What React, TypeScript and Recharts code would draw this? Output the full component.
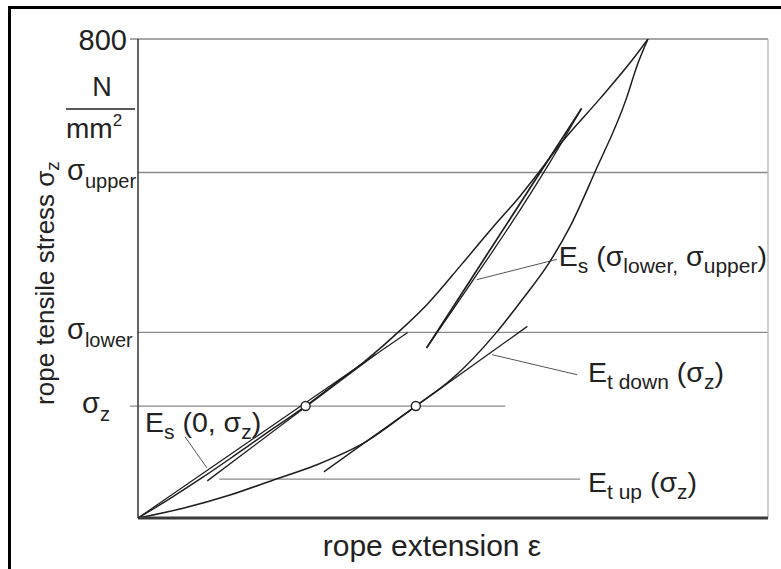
import React from 'react';
import { LineChart, Line, XAxis, YAxis, ReferenceLine, ReferenceDot } from 'recharts';

// stress levels (N/mm²) and axis ticks
const yMax = 800;
const sigmaUpper = 577;
const sigmaLower = 310;
const sigmaZ = 187;
const yTicks = [sigmaZ, sigmaLower, sigmaUpper, yMax];

// extension (arbitrary units 0..100)
const xMax = 100;

// loading / unloading curves
const curveLeft = [
  { x: 0, y: 0 }, { x: 5, y: 32 }, { x: 10, y: 66 }, { x: 15, y: 102 }, { x: 20, y: 139 },
  { x: 26.6, y: 187 }, { x: 31, y: 222 }, { x: 35.9, y: 261 }, { x: 41.8, y: 315 },
  { x: 46, y: 358 }, { x: 51.4, y: 424 }, { x: 56.7, y: 490 }, { x: 60.6, y: 537 },
  { x: 63.6, y: 577 }, { x: 67.3, y: 628 }, { x: 73.3, y: 700 }, { x: 78.6, y: 767 },
  { x: 80.95, y: 800 },
];
const curveRight = [
  { x: 0, y: 0 }, { x: 7, y: 16 }, { x: 14.6, y: 38.5 }, { x: 21.5, y: 63.6 }, { x: 28.4, y: 89 },
  { x: 35.8, y: 125 }, { x: 44.1, y: 187 }, { x: 49.7, y: 231 }, { x: 56.9, y: 310 },
  { x: 61, y: 365 }, { x: 65.3, y: 427 }, { x: 68.6, y: 487 }, { x: 72.5, y: 577 },
  { x: 77.5, y: 700 }, { x: 79.2, y: 755 }, { x: 80.95, y: 800 },
];
// inner loop between sigma lower and sigma upper
const innerLoopA = [{ x: 45.8, y: 284 }, { x: 70.4, y: 684 }];
const innerLoopB = [
  { x: 45.8, y: 284 }, { x: 50.5, y: 356 }, { x: 55.5, y: 433 }, { x: 60.5, y: 512 },
  { x: 65.5, y: 596 }, { x: 70.4, y: 684 },
];
// secant and tangents
const secantZero = [{ x: 0, y: 0 }, { x: 42.8, y: 310 }];
const tangentUp = [{ x: 11, y: 62 }, { x: 37.8, y: 274 }];
const tangentDown = [{ x: 29.5, y: 77 }, { x: 61.8, y: 320 }];
// marked points
const markPoints = [{ x: 26.6, y: sigmaZ }, { x: 44.1, y: sigmaZ }];

// leader lines
const leaderEs0 = [{ x: 7.46, y: 135.6 }, { x: 10.95, y: 83.7 }];
const leaderEsLU = [{ x: 53.76, y: 398 }, { x: 66.5, y: 432 }];
const leaderEtDown = [{ x: 56.2, y: 272.8 }, { x: 69.7, y: 239.3 }];
const leaderEtUpY = 65;
const leaderEtUpX = [12.9, 70.2];

// annotation anchors (data coordinates) and texts
type Part = { t: string; sub?: boolean };
const annotations: { x: number; y: number; parts: Part[] }[] = [
  { x: 1.11, y: 143.9, parts: [{ t: 'E' }, { t: 's', sub: true }, { t: ' (0, σ' }, { t: 'z', sub: true }, { t: ')' }] },
  { x: 66.8, y: 420.1, parts: [{ t: 'E' }, { t: 's', sub: true }, { t: ' (σ' }, { t: 'lower,', sub: true }, { t: ' σ' }, { t: 'upper', sub: true }, { t: ')' }] },
  { x: 71.43, y: 227.6, parts: [{ t: 'E' }, { t: 't down', sub: true }, { t: ' (σ' }, { t: 'z', sub: true }, { t: ')' }] },
  { x: 71.43, y: 43.5, parts: [{ t: 'E' }, { t: 't up', sub: true }, { t: ' (σ' }, { t: 'z', sub: true }, { t: ')' }] },
];

const FONT = '"Liberation Sans", Arial, Helvetica, sans-serif';
const TXT = '#222';
const GRID = '#8a8a8a';
const CURVE = '#1e1e1e';
const FS = 28.5;
const SUB = 21;
const SUBDY = 7;

const renderParts = (parts: Part[]) => {
  let level = 0;
  return parts.map((p, i) => {
    const target = p.sub ? SUBDY : 0;
    const dy = target - level;
    level = target;
    return (
      <tspan key={i} dy={dy} fontSize={p.sub ? SUB : FS}>
        {p.t}
      </tspan>
    );
  });
};

const YTick = (props: any) => {
  const { x, y, payload } = props;
  const v = payload.value;
  const common = { fontFamily: FONT, fill: TXT, style: { whiteSpace: 'pre' as const } };
  if (v === yMax) {
    return (
      <g>
        <text x={x - 11} y={y + 11} fontSize={29} textAnchor="end" {...common}>800</text>
        <text x={x - 36} y={y + 57} fontSize={27} textAnchor="middle" {...common}>N</text>
        <line x1={x - 72} x2={x - 3} y1={y + 70} y2={y + 70} stroke={TXT} strokeWidth={1.3} />
        <text x={x - 72} y={y + 99} fontSize={28} {...common}>
          <tspan>mm</tspan>
          <tspan fontSize={17} dy={-12}>2</tspan>
        </text>
      </g>
    );
  }
  const sub = v === sigmaUpper ? 'upper' : v === sigmaLower ? 'lower' : 'z';
  const x0 = v === sigmaZ ? x - 56 : x - 71;
  return (
    <text x={x0} y={y + 7} fontSize={29} {...common}>
      <tspan>σ</tspan>
      <tspan fontSize={20} dy={8}>{sub}</tspan>
    </text>
  );
};

const YTitle = (props: any) => {
  const vb = props.viewBox;
  const cx = vb.x + 37;
  const cy = vb.y + 244;
  return (
    <text
      x={cx}
      y={cy}
      transform={`rotate(-90 ${cx} ${cy})`}
      textAnchor="middle"
      fontSize={26}
      fontFamily={FONT}
      fill={TXT}
      dominantBaseline="central"
    >
      <tspan>rope tensile stress σ</tspan>
      <tspan fontSize={19} dy={7}>z</tspan>
    </text>
  );
};

const XTitle = (props: any) => {
  const vb = props.viewBox;
  return (
    <text x={vb.x + 294} y={vb.y + 38} textAnchor="middle" fontSize={30} fontFamily={FONT} fill={TXT}>
      rope extension ε
    </text>
  );
};

const makeAnn = (parts: Part[]) => (props: any) => {
  const vb = props.viewBox;
  const x = vb.x + (vb.width || 0) / 2;
  const y = vb.y + (vb.height || 0) / 2;
  return (
    <text x={x} y={y} fontFamily={FONT} fill={TXT} fontSize={FS} style={{ whiteSpace: 'pre' }}>
      {renderParts(parts)}
    </text>
  );
};

const seg = (pts: { x: number; y: number }[]) => pts.map((p) => ({ x: p.x, y: p.y }));

export default function App() {
  const curveProps = { dataKey: 'y', dot: false, isAnimationActive: false, stroke: CURVE, strokeWidth: 1.5, type: 'monotone' as const };
  const lineProps = { dataKey: 'y', dot: false, isAnimationActive: false, stroke: CURVE, strokeWidth: 1.4, type: 'linear' as const };
  return (
    <div style={{ position: 'absolute', left: 0, top: 0, width: 781, height: 569, background: '#fff' }}>
      <div
        style={{
          position: 'absolute', left: 8, top: 6, width: 773, height: 563,
          borderLeft: '3px solid #000', borderTop: '3px solid #000', boxSizing: 'border-box',
        }}
      />
      <div style={{ position: 'absolute', left: 0, top: 0 }}>
        <LineChart width={781} height={569} margin={{ top: 39, right: 13, bottom: 0, left: 8 }}>
          <XAxis
            type="number"
            dataKey="x"
            domain={[0, xMax]}
            allowDataOverflow
            tick={false}
            tickLine={false}
            height={51}
            axisLine={{ stroke: '#3a3a3a', strokeWidth: 3 }}
            label={{ content: XTitle }}
          />
          <YAxis
            type="number"
            domain={[0, yMax]}
            allowDataOverflow
            ticks={yTicks}
            interval={0}
            width={130}
            tickSize={0}
            tickMargin={0}
            tickLine={false}
            tick={YTick}
            axisLine={{ stroke: '#333', strokeWidth: 1.5 }}
            label={{ content: YTitle }}
          />
          <ReferenceLine segment={[{ x: -1.27, y: yMax }, { x: xMax, y: yMax }]} stroke={GRID} strokeWidth={1.3} ifOverflow="visible" />
          <ReferenceLine segment={[{ x: 0, y: sigmaUpper }, { x: xMax, y: sigmaUpper }]} stroke={GRID} strokeWidth={1.3} ifOverflow="visible" />
          <ReferenceLine segment={[{ x: 0, y: sigmaLower }, { x: xMax, y: sigmaLower }]} stroke={GRID} strokeWidth={1.3} ifOverflow="visible" />
          <ReferenceLine segment={[{ x: -1.27, y: sigmaZ }, { x: 58.3, y: sigmaZ }]} stroke={GRID} strokeWidth={1.3} ifOverflow="visible" />
          <ReferenceLine segment={[{ x: leaderEtUpX[0], y: leaderEtUpY }, { x: leaderEtUpX[1], y: leaderEtUpY }]} stroke={GRID} strokeWidth={1.2} ifOverflow="visible" />
          <ReferenceLine segment={[{ x: xMax, y: 0 }, { x: xMax, y: yMax }]} stroke="#b5b5b5" strokeWidth={1.3} ifOverflow="visible" />
          <ReferenceLine segment={seg(leaderEs0)} stroke="#555" strokeWidth={1} ifOverflow="visible" />
          <ReferenceLine segment={seg(leaderEsLU)} stroke="#555" strokeWidth={1} ifOverflow="visible" />
          <ReferenceLine segment={seg(leaderEtDown)} stroke="#555" strokeWidth={1} ifOverflow="visible" />

          <Line data={curveLeft} {...curveProps} />
          <Line data={curveRight} {...curveProps} />
          <Line data={innerLoopA} {...lineProps} strokeWidth={1.7} />
          <Line data={innerLoopB} {...curveProps} strokeWidth={1.3} />
          <Line data={secantZero} {...lineProps} strokeWidth={1.2} />
          <Line data={tangentUp} {...lineProps} strokeWidth={1.3} />
          <Line data={tangentDown} {...lineProps} strokeWidth={1.3} />

          {markPoints.map((p, i) => (
            <ReferenceDot key={`m${i}`} x={p.x} y={p.y} r={4.5} fill="#fff" stroke="#222" strokeWidth={1.4} ifOverflow="visible" />
          ))}

          {annotations.map((a, i) => (
            <ReferenceDot
              key={`a${i}`}
              x={a.x}
              y={a.y}
              r={1}
              fill="none"
              stroke="none"
              ifOverflow="visible"
              label={{ content: makeAnn(a.parts) }}
            />
          ))}
        </LineChart>
      </div>
    </div>
  );
}
